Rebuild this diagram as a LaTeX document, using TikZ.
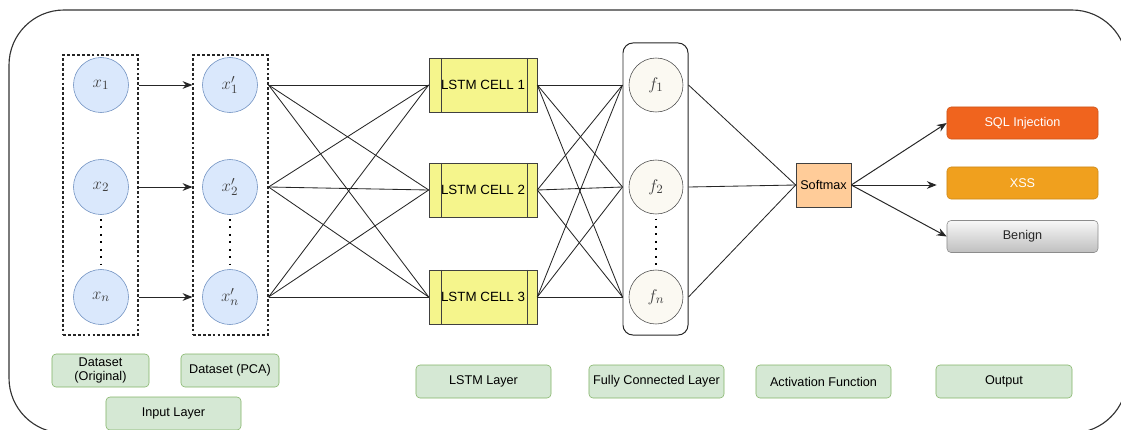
\documentclass[tikz,border=0pt]{standalone}
\usepackage{fontspec}
\setmainfont{Liberation Sans}
\usetikzlibrary{calc}
\usetikzlibrary{arrows.meta}
\usetikzlibrary{positioning}
\definecolor{inblue}{RGB}{218,232,252}
\definecolor{inblueline}{RGB}{108,142,191}
\definecolor{lstmfill}{RGB}{245,245,140}
\definecolor{fcfill}{RGB}{251,249,242}
\definecolor{softfill}{RGB}{255,204,153}
\definecolor{sqlfill}{RGB}{240,100,30}
\definecolor{xssfill}{RGB}{240,160,30}
\definecolor{labfill}{RGB}{213,232,212}
\definecolor{labline}{RGB}{130,179,102}

\begin{document}
\begin{tikzpicture}[x=0.025cm, y=-0.025cm,
  inp/.style={circle, draw=inblueline, fill=inblue, minimum size=1.375cm, inner sep=0pt,
    font=\fontsize{13}{15}\selectfont, text=black!75},
  fcn/.style={circle, draw=black!70, fill=fcfill, minimum size=1.35cm, inner sep=0pt,
    font=\fontsize{13}{15}\selectfont, text=black!75},
  grp/.style={draw=black!85, dash pattern=on 2pt off 1.5pt, line width=0.8pt, inner sep=0pt},
  lstmcell/.style={draw=black!75, fill=lstmfill, minimum width=2.7cm, minimum height=1.35cm,
    font=\fontsize{9.5}{11}\selectfont, path picture={
      \draw[black!75] ([xshift=0.3cm]path picture bounding box.north west) -- ([xshift=0.3cm]path picture bounding box.south west);
      \draw[black!75] ([xshift=-0.25cm]path picture bounding box.north east) -- ([xshift=-0.25cm]path picture bounding box.south east);}},
  outbox/.style={rounded corners=0.1cm, minimum width=3.775cm, minimum height=0.8cm,
    font=\fontsize{9}{11}\selectfont},
  labbox/.style={draw=labline, fill=labfill, rounded corners=0.1cm, minimum height=0.825cm,
    align=center, font=\fontsize{9}{10}\selectfont, inner sep=1pt},
  vdots/.style={line width=1.3pt, dash pattern=on 1.3pt off 4pt, shorten <=3pt, shorten >=3pt},
  link/.style={black!85, line width=0.6pt},
  arr/.style={-{Stealth[length=7pt,width=5.5pt]}, line width=0.7pt, black!85}
]
\useasboundingbox (0,0) rectangle (1121,429);
\begin{scope}
\clip (0,0) rectangle (1121,429);
\draw[line width=0.8pt, black!80, rounded corners=1.375cm] (9,10) rectangle (1127,433);
\end{scope}

\node[grp, minimum width=1.875cm, minimum height=7cm] (grp1) at (100.5,195) {};
\node[grp, minimum width=1.875cm, minimum height=7cm] (grp2) at (230.5,195) {};
\node[draw=black!85, line width=0.7pt, rounded corners=0.25cm, minimum width=1.625cm, minimum height=7.3cm] (fcgrp) at (655.5,189) {};

\node[inp] (x1) at (101,85) {$x_1$};
\node[inp] (x2) at (101,187) {$x_2$};
\node[inp] (xn) at (101,297) {$x_n$};
\node[inp] (xp1) at (230,85) {$x'_1$};
\node[inp] (xp2) at (230,187) {$x'_2$};
\node[inp] (xpn) at (230,297) {$x'_n$};

\node[lstmcell] (cell1) at (483,85) {LSTM CELL 1};
\node[lstmcell] (cell2) at (483,190) {LSTM CELL 2};
\node[lstmcell] (cell3) at (483,297) {LSTM CELL 3};

\node[fcn] (fc1) at (656,85) {$f_1$};
\node[fcn] (fc2) at (656,187) {$f_2$};
\node[fcn] (fcn) at (656,297) {$f_n$};

\node[draw=black!75, fill=softfill, minimum width=1.375cm, minimum height=1.1cm, inner sep=1pt,
  font=\fontsize{9}{11}\selectfont] (softmax) at (823.5,185) {Softmax};

\node[outbox, draw=sqlfill!85!black, fill=sqlfill, text=white] (sql) at (1022.5,123) {SQL Injection};
\node[outbox, draw=xssfill!85!black, fill=xssfill, text=white] (xss) at (1022.5,183) {XSS};
\node[outbox, draw=black!45, top color=black!3, bottom color=black!25, text=black!85] (benign) at (1022.5,236.5) {Benign};

\draw[vdots] (x2.south) -- (xn.north);
\draw[vdots] (xp2.south) -- (xpn.north);
\draw[vdots] (fc2.south) -- (fcn.north);

\foreach \i in {1,2,n}
  \draw[arr] (grp1.east |- x\i) -- (grp2.west |- xp\i);
\foreach \i in {1,2,n}
  \foreach \j in {1,2,3}
    \draw[link] (grp2.east |- xp\i) -- (cell\j.west);
\foreach \i in {1,2,3}
  \foreach \j in {1,2,n}
    \draw[link] (cell\i.east) -- (fcgrp.west |- fc\j);
\foreach \j in {1,2,n}
  \draw[link] (fcgrp.east |- fc\j) -- (softmax.west);

\draw[arr] (softmax.east) -- (sql.west);
\draw[arr, shorten >=0.25cm] (softmax.east) -- (softmax.east -| xss.west);
\draw[arr] (softmax.east) -- (benign.west);

\node[labbox, minimum width=2.425cm] (orig) at (100.5,370.5) {Dataset\\(Original)};
\node[labbox, minimum width=2.45cm] (pca) at (230,370.5) {Dataset (PCA)};
\node[labbox, minimum width=3.375cm] (inlayer) at (173.5,413.5) {Input Layer};
\node[labbox, minimum width=3.375cm] (lstmlayer) at (483.5,381.5) {LSTM Layer};
\node[labbox, minimum width=3.375cm] (fclayer) at (656.5,381.5) {Fully Connected Layer};
\node[labbox, minimum width=3.375cm] (actlayer) at (823.5,381.5) {Activation Function};
\node[labbox, minimum width=3.4cm] (outlayer) at (1004,381.5) {Output};
\end{tikzpicture}
\end{document}
